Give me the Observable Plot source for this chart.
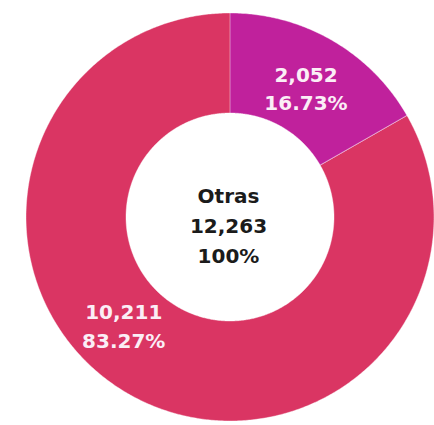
<!DOCTYPE html>
<html>
<head>
<meta charset="utf-8">
<script src="https://cdn.jsdelivr.net/npm/d3@7"></script>
<script src="https://cdn.jsdelivr.net/npm/@observablehq/plot@0.6"></script>
<style>
  html, body { margin: 0; padding: 0; background: #ffffff; }
  #chart svg { display: block; }
</style>
</head>
<body>
<div id="chart"></div>
<script>
// ---- data ----
const categories = ["Parte A", "Parte B"];
const values = [2052, 10211];
const colors = ["#c0219c", "#da3563"];
const centerTitle = "Otras";

// ---- layout (not data) ----
const W = 434, H = 425;
const cx = 230, cy = 217, R = 204, r0 = 104;
const labelRadius = 151;
const labelAngleDeg = [30, 225];

const total = d3.sum(values);
const fmtInt = d3.format(",");
const fmtPct = v => (v * 100).toFixed(2) + "%";

const pie = d3.pie().sort(null).value(d => d.value).startAngle(0).endAngle(2 * Math.PI);
const arcs = pie(categories.map((c, i) => ({category: c, value: values[i]})));

// points along each annular sector (geometry of the slice, from the pie angles)
const ringRows = [];
for (const a of arcs) {
  const n = Math.max(2, Math.ceil((a.endAngle - a.startAngle) / (Math.PI / 360)));
  for (let k = 0; k <= n; k++) {
    const t = a.startAngle + (a.endAngle - a.startAngle) * k / n;
    ringRows.push({
      category: a.data.category,
      xo: cx + R * Math.sin(t), yo: cy - R * Math.cos(t),
      xi: cx + r0 * Math.sin(t), yi: cy - r0 * Math.cos(t)
    });
  }
}

const labelRows = arcs.map((a, i) => {
  const t = labelAngleDeg[i] * Math.PI / 180;
  return {
    x: cx + labelRadius * Math.sin(t),
    y: cy - labelRadius * Math.cos(t),
    text: fmtInt(a.data.value) + "\n" + fmtPct(a.data.value / total)
  };
});

const centerRows = [{x: cx - 2, y: cy + 6, text: centerTitle + "\n" + fmtInt(total) + "\n100%"}];

const font = "'DejaVu Sans', sans-serif";

const chart = Plot.plot({
  width: W,
  height: H,
  margin: 0,
  style: {background: "#ffffff", fontFamily: font},
  x: {domain: [0, W], range: [0, W], axis: null},
  y: {domain: [0, H], range: [0, H], axis: null},
  color: {domain: categories, range: colors},
  marks: [
    Plot.area(ringRows, {
      x1: "xo", y1: "yo", x2: "xi", y2: "yi",
      z: "category", fill: "category",
      stroke: "#ffffff", strokeWidth: 0.8, strokeOpacity: 0.5,
      curve: "linear"
    }),
    Plot.text(labelRows, {
      x: "x", y: "y", text: "text",
      fill: "#fbeef6", fontSize: 20, fontWeight: 700, lineHeight: 1.42,
      fontFamily: font, textAnchor: "middle"
    }),
    Plot.text(centerRows, {
      x: "x", y: "y", text: "text",
      fill: "#1b1b1b", fontSize: 20, fontWeight: 700, lineHeight: 1.5,
      fontFamily: font, textAnchor: "middle"
    })
  ]
});

document.getElementById("chart").appendChild(chart);
</script>
</body>
</html>
